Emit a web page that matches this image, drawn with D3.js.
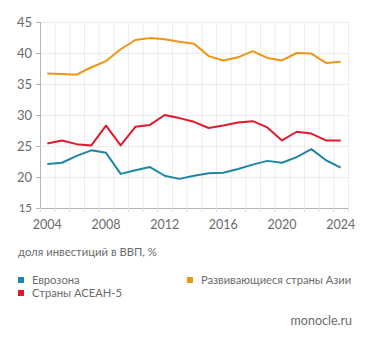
<!DOCTYPE html>
<html>
<head>
<meta charset="utf-8">
<script src="https://cdn.jsdelivr.net/npm/d3@7"></script>
<style>
  html, body { margin: 0; padding: 0; background: #fff; }
  svg { display: block; font-family: Lato, "Open Sans", sans-serif; }
</style>
</head>
<body>
<div id="chart"></div>
<script>
// years on the x axis
const years = d3.range(2004, 2025);
const yearTicks = [2004, 2008, 2012, 2016, 2020, 2024];
const valueTicks = [15, 20, 25, 30, 35, 40, 45];

// investment share of GDP, %
const eurozone = [22.1, 22.3, 23.4, 24.3, 23.9, 20.5, 21.1, 21.6, 20.2, 19.7, 20.2,
  20.6, 20.7, 21.3, 22.0, 22.6, 22.3, 23.2, 24.5, 22.7, 21.5];
const asean5 = [25.4, 25.9, 25.3, 25.1, 28.3, 25.1, 28.1, 28.4, 30.0, 29.5, 28.9,
  27.9, 28.3, 28.8, 29.0, 28.0, 25.9, 27.3, 27.0, 25.9, 25.9];
const emergingAsia = [36.7, 36.6, 36.5, 37.7, 38.7, 40.6, 42.1, 42.4, 42.2, 41.8, 41.5,
  39.5, 38.8, 39.3, 40.3, 39.2, 38.8, 40.0, 39.9, 38.4, 38.6];

const seriesNames = ["Еврозона", "Страны АСЕАН-5", "Развивающиеся страны Азии"];
const seriesColors = ["#1d86a6", "#e3182d", "#ef9413"];
const seriesValues = [eurozone, asean5, emergingAsia];

const WIDTH = 371;
const HEIGHT = 343;
const PLOT = { left: 40, right: 348, top: 22, bottom: 208 };
const TEXT = "#6b6b6b";

const svg = d3.select("#chart")
  .append("svg")
  .attr("width", WIDTH)
  .attr("height", HEIGHT);

const xScale = d3.scaleBand()
  .domain(years)
  .range([PLOT.left, PLOT.right]);

const yScale = d3.scaleLinear()
  .domain([15, 45])
  .range([PLOT.bottom, PLOT.top]);

// grid: vertical lines at every year boundary, horizontal at every value tick
const grid = svg.append("g").attr("stroke", "#ececec").attr("stroke-width", 1);
years.slice(1).concat([null]).forEach(y => {
  const x = y === null ? PLOT.right : xScale(y);
  grid.append("line")
    .attr("x1", x + 0.5).attr("x2", x + 0.5)
    .attr("y1", PLOT.top).attr("y2", PLOT.bottom);
});
valueTicks.slice(1).forEach(v => {
  grid.append("line")
    .attr("x1", PLOT.left).attr("x2", PLOT.right)
    .attr("y1", Math.round(yScale(v)) + 0.5).attr("y2", Math.round(yScale(v)) + 0.5);
});

// x axis: small ticks at band boundaries, labels at band centres
const xAxis = svg.append("g")
  .attr("transform", `translate(0,${PLOT.bottom})`);
xAxis.append("line")
  .attr("x1", PLOT.left).attr("x2", PLOT.right)
  .attr("y1", 0.5).attr("y2", 0.5)
  .attr("stroke", "#b5b5b5");
years.concat([null]).forEach(y => {
  const x = y === null ? PLOT.right : xScale(y);
  xAxis.append("line")
    .attr("x1", x + 0.5).attr("x2", x + 0.5)
    .attr("y1", 0).attr("y2", 4)
    .attr("stroke", "#dcdcdc");
});
xAxis.selectAll("text.year")
  .data(yearTicks)
  .join("text")
  .attr("class", "year")
  .attr("x", d => xScale(d) + xScale.bandwidth() / 2)
  .attr("y", 21)
  .attr("text-anchor", "middle")
  .attr("fill", TEXT)
  .attr("font-size", 12.5)
  .text(d => d);

// y axis
const yAxis = svg.append("g")
  .attr("transform", `translate(${PLOT.left},0)`);
yAxis.append("line")
  .attr("x1", 0.5).attr("x2", 0.5)
  .attr("y1", PLOT.top).attr("y2", PLOT.bottom)
  .attr("stroke", "#b5b5b5");
yAxis.selectAll("line.tick")
  .data(valueTicks)
  .join("line")
  .attr("class", "tick")
  .attr("x1", -4).attr("x2", 0)
  .attr("y1", d => Math.round(yScale(d)) + 0.5)
  .attr("y2", d => Math.round(yScale(d)) + 0.5)
  .attr("stroke", "#b5b5b5");
yAxis.selectAll("text")
  .data(valueTicks)
  .join("text")
  .attr("x", -8)
  .attr("y", d => yScale(d))
  .attr("dy", "0.36em")
  .attr("text-anchor", "end")
  .attr("fill", TEXT)
  .attr("font-size", d => d === 15 ? 11.5 : 13)
  .text(d => d);

// series lines
const line = d3.line()
  .x((d, i) => xScale(years[i]) + xScale.bandwidth() / 2)
  .y(d => yScale(d));

svg.append("g")
  .selectAll("path")
  .data(seriesValues)
  .join("path")
  .attr("fill", "none")
  .attr("stroke", (d, i) => seriesColors[i])
  .attr("stroke-width", 2)
  .attr("stroke-linejoin", "round")
  .attr("d", line);

// caption
svg.append("text")
  .attr("x", 18)
  .attr("y", 256)
  .attr("fill", TEXT)
  .attr("font-size", 11.3)
  .text("доля инвестиций в ВВП, %");

// legend
const legendPos = [[18, 280], [18, 293], [187, 280]];
const legend = svg.append("g")
  .selectAll("g")
  .data(seriesNames)
  .join("g")
  .attr("transform", (d, i) => `translate(${legendPos[i][0]},${legendPos[i][1]})`);
legend.append("rect")
  .attr("x", 0).attr("y", -3)
  .attr("width", 6).attr("height", 6)
  .attr("fill", (d, i) => seriesColors[i]);
legend.append("text")
  .attr("x", 14)
  .attr("dy", "0.36em")
  .attr("fill", TEXT)
  .attr("font-size", 11.2)
  .text(d => d);

// source
svg.append("text")
  .attr("x", 352)
  .attr("y", 325)
  .attr("text-anchor", "end")
  .attr("fill", TEXT)
  .attr("font-size", 12.5)
  .text("monocle.ru");
</script>
</body>
</html>
